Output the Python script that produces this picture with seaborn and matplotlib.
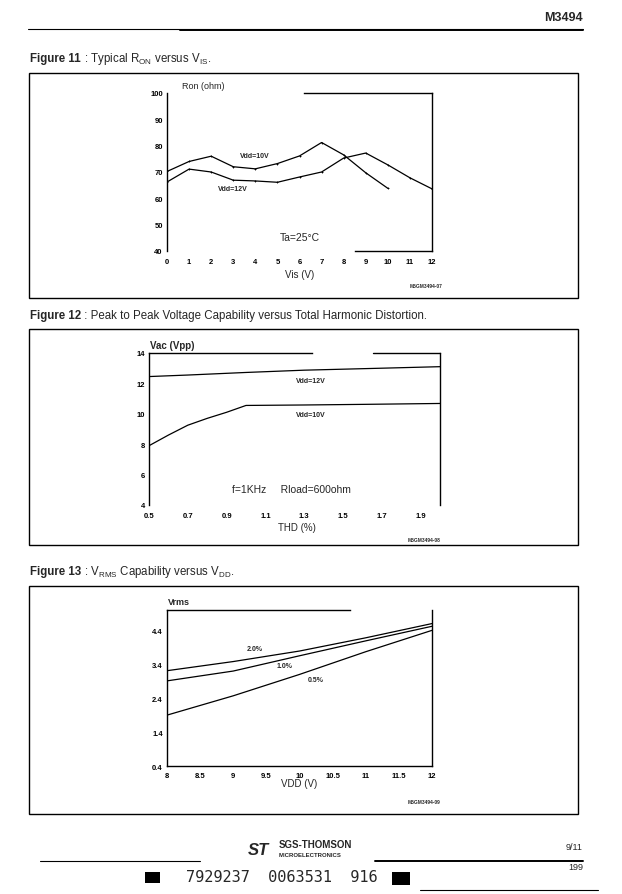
import numpy as np
import pandas as pd
import matplotlib
matplotlib.use("Agg")
import matplotlib.pyplot as plt
from matplotlib.patches import Rectangle
from matplotlib.lines import Line2D
import seaborn as sns

# ---------------- data ----------------
# Figure 11 : Ron versus Vis
vis_10 = [0, 1, 2, 3, 4, 5, 6, 7, 8, 9, 10]
ron_10 = [70.2, 74.0, 76.0, 72.0, 71.2, 73.2, 76.1, 81.2, 76.5, 69.7, 63.8]
vis_12 = [0, 1, 2, 3, 4, 5, 6, 7, 8, 9, 10, 11, 12]
ron_12 = [66.2, 71.1, 70.0, 66.9, 66.6, 66.1, 68.1, 70.0, 75.3, 77.2, 72.7, 67.8, 63.6]
fig11_xticks = list(range(0, 13))
fig11_yticks = [40, 50, 60, 70, 80, 90, 100]

# Figure 12 : Vac versus THD
thd_12 = [0.5, 0.7, 1.0, 1.3, 1.7, 2.0]
vac_12 = [12.45, 12.55, 12.72, 12.87, 13.0, 13.1]
thd_10 = [0.5, 0.6, 0.7, 0.8, 0.9, 1.0, 1.3, 1.6, 2.0]
vac_10 = [7.9, 8.6, 9.25, 9.7, 10.1, 10.55, 10.58, 10.62, 10.68]
fig12_xticks = [0.5, 0.7, 0.9, 1.1, 1.3, 1.5, 1.7, 1.9]
fig12_xlabels = ["0.5", "0.7", "0.9", "1.1", "1.3", "1.5", "1.7", "1.9"]
fig12_yticks = [4, 6, 8, 10, 12, 14]

# Figure 13 : Vrms versus VDD
vdd = [8, 9, 10, 11, 12]
vrms_20 = [3.21, 3.48, 3.79, 4.18, 4.60]
vrms_10 = [2.91, 3.20, 3.65, 4.09, 4.52]
vrms_05 = [1.90, 2.47, 3.10, 3.77, 4.40]
fig13_xticks = [8, 8.5, 9, 9.5, 10, 10.5, 11, 11.5, 12]
fig13_xlabels = ["8", "8.5", "9", "9.5", "10", "10.5", "11", "11.5", "12"]
fig13_yticks = [0.4, 1.4, 2.4, 3.4, 4.4]

# ---------------- style ----------------
sns.set_theme(style="white")
plt.rcParams["font.family"] = ["Liberation Sans", "DejaVu Sans"]
plt.rcParams["mathtext.fontset"] = "custom"
plt.rcParams["mathtext.rm"] = "Liberation Sans"
plt.rcParams["mathtext.it"] = "Liberation Sans"
plt.rcParams["mathtext.bf"] = "Liberation Sans:bold"

W, H = 622, 895
fig = plt.figure(figsize=(W / 100, H / 100), dpi=100)
fig.patch.set_facecolor("white")


def fx(x):
    return x / W


def fy(y):
    return 1 - y / H


def add_axes(L, T, R, B):
    return fig.add_axes([fx(L), fy(B), (R - L) / W, (B - T) / H])


def style_axes(ax):
    ax.set_facecolor("white")
    ax.tick_params(axis="both", length=0, labelsize=5.5, colors="black")
    for lab in ax.get_xticklabels() + ax.get_yticklabels():
        lab.set_fontweight("bold")
    for s in ax.spines.values():
        s.set_color("black")
        s.set_linewidth(1.0)
    ax.grid(False)
    ax.set_xlabel("")
    ax.set_ylabel("")


# ---------- page decorations ----------
fig.text(fx(583), fy(18), "M3494", ha="right", va="center", fontsize=9, fontweight="bold")
fig.add_artist(Line2D([fx(28), fx(583)], [fy(30), fy(30)], color="black", lw=0.8))
fig.add_artist(Line2D([fx(180), fx(583)], [fy(30.5), fy(30.5)], color="black", lw=1.4))

for (T, B) in [(74, 299), (330, 546), (587, 815)]:
    fig.add_artist(Rectangle((fx(29), fy(B)), (578 - 29) / W, (B - T) / H,
                             fill=False, edgecolor="black", lw=1.0,
                             transform=fig.transFigure))

renderer = fig.canvas.get_renderer()


def title(y, bold, rest):
    t = fig.text(fx(30), fy(y), bold, ha="left", va="baseline", fontsize=8.3,
                 fontweight="bold")
    bb = t.get_window_extent(renderer=renderer)
    x1 = bb.x1 / fig.bbox.width
    fig.text(x1, fy(y), rest, ha="left", va="baseline", fontsize=8.3)


title(62, "Figure 11", r" : Typical R$_{\mathrm{ON}}$ versus V$_{\mathrm{IS}}$.")
title(319, "Figure 12", " : Peak to Peak Voltage Capability versus Total Harmonic Distortion.")
title(575, "Figure 13", r" : V$_{\mathrm{RMS}}$ Capability versus V$_{\mathrm{DD}}$.")

# ---------------- Figure 11 ----------------
ax1 = add_axes(167, 94, 432, 252)
df11 = pd.concat([
    pd.DataFrame({"Vis": vis_10, "Ron": ron_10, "Vdd": "Vdd=10V"}),
    pd.DataFrame({"Vis": vis_12, "Ron": ron_12, "Vdd": "Vdd=12V"}),
])
sns.lineplot(data=df11, x="Vis", y="Ron", hue="Vdd", palette=["black", "black"],
             linewidth=0.9, legend=False, ax=ax1, markers=False)
sns.scatterplot(data=df11, x="Vis", y="Ron", color="black", s=3, marker="+",
                linewidth=0.6, legend=False, ax=ax1)
ax1.set_xlim(0, 12)
ax1.set_ylim(40, 100)
ax1.set_xticks(fig11_xticks)
ax1.set_yticks(fig11_yticks)
style_axes(ax1)
ax1.tick_params(axis="x", pad=5)
ax1.tick_params(axis="y", pad=3)
ax1.spines["top"].set_bounds(6.2, 12)
ax1.spines["bottom"].set_bounds(8.5, 12)
ax1.text(0.68, 1.05, "Ron (ohm)", transform=ax1.get_xaxis_transform(),
         ha="left", va="center", fontsize=6.5)
ax1.text(3.3, 76.3, "Vdd=10V", fontsize=5, fontweight="bold", ha="left", va="center")
ax1.text(2.3, 63.8, "Vdd=12V", fontsize=5, fontweight="bold", ha="left", va="center")
ax1.text(5.1, 45.3, "Ta=25°C", fontsize=7.5, ha="left", va="center")
ax1.text(6.0, -0.145, "Vis (V)", transform=ax1.get_xaxis_transform(),
         ha="center", va="center", fontsize=7)
fig.text(fx(442), fy(287), "M5GM3494-07", ha="right", va="center", fontsize=3.5,
         fontweight="bold")

# ---------------- Figure 12 ----------------
ax2 = add_axes(149, 354, 440, 506)
df12 = pd.concat([
    pd.DataFrame({"THD": thd_12, "Vac": vac_12, "Vdd": "Vdd=12V"}),
    pd.DataFrame({"THD": thd_10, "Vac": vac_10, "Vdd": "Vdd=10V"}),
])
sns.lineplot(data=df12, x="THD", y="Vac", hue="Vdd", palette=["black", "black"],
             linewidth=0.9, legend=False, ax=ax2)
ax2.set_xlim(0.5, 2.0)
ax2.set_ylim(4, 14)
ax2.set_xticks(fig12_xticks)
ax2.set_xticklabels(fig12_xlabels)
ax2.set_yticks(fig12_yticks)
style_axes(ax2)
ax2.tick_params(axis="x", pad=5)
ax2.tick_params(axis="y", pad=3)
ax2.spines["bottom"].set_visible(False)
ax2.spines["top"].set_bounds(0.5, 1.34)
ax2.axhline(14, xmin=0.77, xmax=1.0, color="black", lw=1.0, clip_on=False)
ax2.text(0.505, 1.055, "Vac (Vpp)", transform=ax2.get_xaxis_transform(),
         ha="left", va="center", fontsize=7, fontweight="bold")
ax2.text(1.26, 12.2, "Vdd=12V", fontsize=5, fontweight="bold", ha="left", va="center")
ax2.text(1.26, 9.95, "Vdd=10V", fontsize=5, fontweight="bold", ha="left", va="center")
ax2.text(0.93, 5.05, "f=1KHz     Rload=600ohm", fontsize=7.5, ha="left", va="center")
ax2.text(1.26, -0.145, "THD (%)", transform=ax2.get_xaxis_transform(),
         ha="center", va="center", fontsize=7)
fig.text(fx(440), fy(541), "M5GM3494-08", ha="right", va="center", fontsize=3.5,
         fontweight="bold")

# ---------------- Figure 13 ----------------
ax3 = add_axes(167, 611, 432, 767)
df13 = pd.concat([
    pd.DataFrame({"VDD": vdd, "Vrms": vrms_20, "THD": "2.0%"}),
    pd.DataFrame({"VDD": vdd, "Vrms": vrms_10, "THD": "1.0%"}),
    pd.DataFrame({"VDD": vdd, "Vrms": vrms_05, "THD": "0.5%"}),
])
sns.lineplot(data=df13, x="VDD", y="Vrms", hue="THD", palette=["black"] * 3,
             linewidth=0.9, legend=False, ax=ax3)
ax3.set_xlim(8, 12)
ax3.set_ylim(0.4, 5.0)
ax3.set_xticks(fig13_xticks)
ax3.set_xticklabels(fig13_xlabels)
ax3.set_yticks(fig13_yticks)
style_axes(ax3)
ax3.tick_params(axis="x", pad=4)
ax3.tick_params(axis="y", pad=3)
ax3.spines["top"].set_bounds(8, 10.76)
ax3.text(8.02, 1.055, "Vrms", transform=ax3.get_xaxis_transform(),
         ha="left", va="center", fontsize=6.5, fontweight="bold")
ax3.text(9.21, 3.87, "2.0%", fontsize=5, fontweight="bold", ha="left", va="center")
ax3.text(9.66, 3.36, "1.0%", fontsize=5, fontweight="bold", ha="left", va="center")
ax3.text(10.13, 2.94, "0.5%", fontsize=5, fontweight="bold", ha="left", va="center")
ax3.text(10.0, -0.11, "VDD (V)", transform=ax3.get_xaxis_transform(),
         ha="center", va="center", fontsize=7)
fig.text(fx(440), fy(802), "M5GM3494-09", ha="right", va="center", fontsize=3.5,
         fontweight="bold")

# ---------------- footer ----------------
fig.text(fx(583), fy(848), "9/11", ha="right", va="center", fontsize=6.5)
fig.add_artist(Line2D([fx(40), fx(200)], [fy(862), fy(862)], color="black", lw=0.8))
fig.add_artist(Line2D([fx(375), fx(583)], [fy(862), fy(862)], color="black", lw=1.4))
fig.text(fx(258), fy(851), "ST", ha="center", va="center", fontsize=12,
         fontweight="bold", fontstyle="italic")
fig.text(fx(279), fy(845), "SGS-THOMSON", ha="left", va="center", fontsize=7,
         fontweight="bold")
fig.text(fx(279), fy(856), "MICROELECTRONICS", ha="left", va="center", fontsize=4.3,
         fontweight="bold")
fig.text(fx(583), fy(868), "199", ha="right", va="center", fontsize=6.5)
fig.add_artist(Rectangle((fx(145), fy(884)), 15 / W, 11 / H, facecolor="black",
                         edgecolor="none", transform=fig.transFigure))
fig.add_artist(Rectangle((fx(392), fy(886)), 18 / W, 13 / H, facecolor="black",
                         edgecolor="none", transform=fig.transFigure))
fig.text(fx(282), fy(878), "7929237  0063531  916", ha="center", va="center",
         fontsize=11, family="DejaVu Sans Mono")
fig.add_artist(Line2D([fx(420), fx(598)], [fy(891), fy(891)], color="black", lw=0.8))

fig.savefig("out.png", dpi=100, facecolor="white")
